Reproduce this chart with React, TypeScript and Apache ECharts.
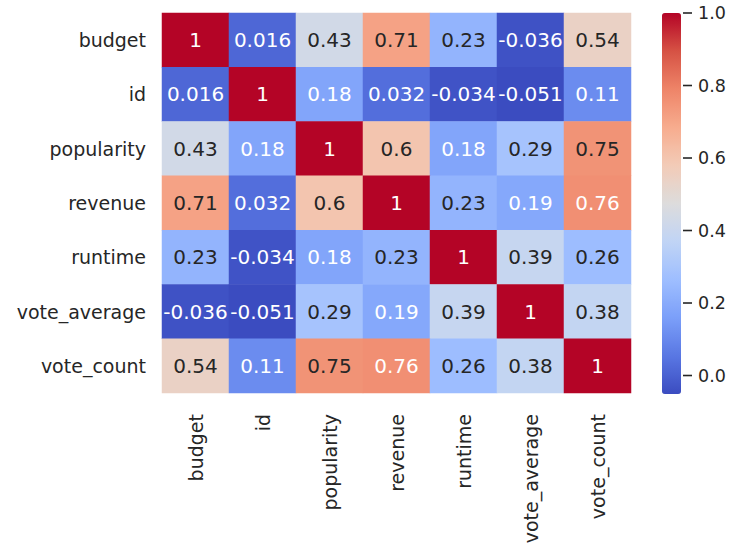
import React, { useEffect, useRef } from "react";
import * as echarts from "echarts";

const variables = ["budget", "id", "popularity", "revenue", "runtime", "vote_average", "vote_count"];

const corr: number[][] = [
  [1, 0.016, 0.43, 0.71, 0.23, -0.036, 0.54],
  [0.016, 1, 0.18, 0.032, -0.034, -0.051, 0.11],
  [0.43, 0.18, 1, 0.6, 0.18, 0.29, 0.75],
  [0.71, 0.032, 0.6, 1, 0.23, 0.19, 0.76],
  [0.23, -0.034, 0.18, 0.23, 1, 0.39, 0.26],
  [-0.036, -0.051, 0.29, 0.19, 0.39, 1, 0.38],
  [0.54, 0.11, 0.75, 0.76, 0.26, 0.38, 1],
];

// 1 = annotation drawn in light text, 0 = dark text (as in the reference)
const lightText: number[][] = [
  [1, 1, 0, 0, 0, 1, 0],
  [1, 1, 1, 1, 1, 1, 1],
  [0, 1, 1, 0, 1, 0, 0],
  [0, 1, 0, 1, 0, 1, 1],
  [0, 1, 1, 0, 1, 0, 0],
  [1, 1, 0, 1, 0, 1, 0],
  [0, 1, 0, 1, 0, 0, 1],
];

const colorMin = -0.051;
const colorMax = 1.0;
const colorbarTicks = [0, 0.2, 0.4, 0.6, 0.8, 1.0];

const coolwarm = [
  "#3b4cc0", "#5977e3", "#7b9ff9", "#9ebeff", "#c0d4f5", "#dddcdc",
  "#f2cbb7", "#f7ac8e", "#ee8468", "#d65244", "#b40426",
];

export default function App() {
  const ref = useRef<HTMLDivElement>(null);
  useEffect(() => {
    if (!ref.current) return;
    const chart = echarts.init(ref.current, null, { renderer: "svg" });
    const font = "DejaVu Sans";
    const dark = "#262626";
    const data: any[] = [];
    corr.forEach((row, yi) => {
      row.forEach((v, xi) => {
        data.push({
          value: [xi, yi, v],
          label: { color: lightText[yi][xi] ? "#ffffff" : dark },
        });
      });
    });
    chart.setOption({
      animation: false,
      backgroundColor: "#ffffff",
      textStyle: { fontFamily: font },
      grid: [
        { left: 162, top: 13, width: 469, height: 380, containLabel: false },
        { left: 662, top: 13, width: 19, height: 381, containLabel: false },
      ],
      xAxis: [
        {
          type: "category",
          gridIndex: 0,
          data: variables,
          axisLine: { show: false },
          axisTick: { show: false },
          splitLine: { show: false },
          axisLabel: {
            rotate: 90,
            margin: 21,
            fontSize: 19,
            color: dark,
            fontFamily: font,
            interval: 0,
          },
        },
        { type: "value", gridIndex: 1, show: false, min: 0, max: 1 },
      ],
      yAxis: [
        {
          type: "category",
          gridIndex: 0,
          data: variables,
          inverse: true,
          axisLine: { show: false },
          axisTick: { show: false },
          splitLine: { show: false },
          axisLabel: {
            margin: 16,
            fontSize: 19,
            color: dark,
            fontFamily: font,
            interval: 0,
          },
        },
        {
          type: "value",
          gridIndex: 1,
          position: "right",
          min: colorMin,
          max: colorMax,
          axisLine: { show: false },
          splitLine: { show: false },
          axisTick: { show: false },
          axisLabel: {
            show: true,
            margin: 2,
            fontSize: 17.5,
            color: dark,
            fontFamily: font,
            customValues: colorbarTicks,
            formatter: (v: number) => "{tk|}{v|" + v.toFixed(1) + "}",
            rich: {
              tk: {
                width: 9,
                height: 1.6,
                backgroundColor: dark,
                verticalAlign: "middle",
              },
              v: {
                fontSize: 17.5,
                color: dark,
                fontFamily: font,
                padding: [0, 0, 0, 6],
                verticalAlign: "middle",
              },
            },
          },
        },
      ],
      visualMap: {
        type: "continuous",
        min: colorMin,
        max: colorMax,
        dimension: 2,
        seriesIndex: 0,
        calculable: false,
        realtime: false,
        orient: "vertical",
        left: 662,
        top: 13,
        padding: 0,
        itemWidth: 19,
        itemHeight: 381,
        showLabel: false,
        indicatorSize: 0,
        handleSize: 0,
        inRange: { color: coolwarm },
        hoverLink: false,
      },
      series: [
        {
          type: "heatmap",
          xAxisIndex: 0,
          yAxisIndex: 0,
          data,
          label: {
            show: true,
            fontSize: 20,
            fontFamily: font,
            formatter: (p: any) => String(p.value[2]),
          },
          itemStyle: { borderWidth: 0 },
          emphasis: { disabled: true },
        },
      ],
    });
    return () => chart.dispose();
  }, []);
  return (
    <div
      ref={ref}
      style={{ position: "fixed", left: 0, top: 0, width: 736, height: 556, background: "#fff" }}
    />
  );
}
